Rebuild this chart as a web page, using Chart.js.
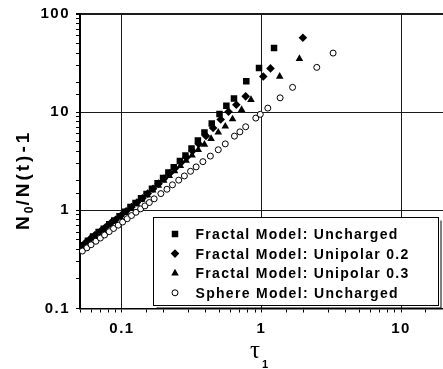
<!DOCTYPE html>
<html><head><meta charset="utf-8">
<script src="https://cdn.jsdelivr.net/npm/chart.js@4/dist/chart.umd.min.js"></script>
<style>html,body{margin:0;padding:0;background:#fff;}canvas{display:block;}</style>
</head><body>
<canvas id="c" width="443" height="369"></canvas>
<script>
// ---- data ----
const seriesNames = ['Fractal Model: Uncharged','Fractal Model: Unipolar 0.2','Fractal Model: Unipolar 0.3','Sphere Model: Uncharged'];

const squareX = [0.052,0.057,0.062,0.068,0.074,0.081,0.088,0.096,0.105,0.115,0.125,0.137,0.150,0.164,0.180,0.197,0.215,0.235,0.260,0.285,0.315,0.350,0.390,0.440,0.500,0.560,0.635,0.778,0.960,1.23];
const squareY = [0.44,0.49,0.54,0.60,0.65,0.72,0.79,0.87,0.97,1.08,1.19,1.33,1.47,1.66,1.89,2.14,2.43,2.75,3.18,3.62,4.26,5.13,6.21,7.66,9.6,11.6,13.8,20.7,28.1,45];

const diamondX = [0.054,0.059,0.064,0.070,0.076,0.083,0.090,0.098,0.107,0.117,0.128,0.140,0.153,0.167,0.183,0.200,0.220,0.240,0.265,0.290,0.320,0.355,0.400,0.450,0.510,0.580,0.660,0.77,1.03,1.16,1.98];
const diamondY = [0.46,0.51,0.56,0.61,0.67,0.74,0.80,0.88,0.98,1.08,1.20,1.33,1.48,1.66,1.87,2.11,2.39,2.69,3.07,3.46,4.03,4.74,5.73,6.90,8.42,10.1,11.9,14.5,23.1,27.9,57.3];

const triangleX = [0.053,0.058,0.063,0.069,0.075,0.082,0.089,0.097,0.106,0.116,0.127,0.139,0.152,0.166,0.182,0.199,0.218,0.238,0.262,0.288,0.318,0.352,0.390,0.435,0.490,0.550,0.620,0.72,0.84,1.35,1.87];
const triangleY = [0.44,0.49,0.54,0.59,0.65,0.72,0.78,0.86,0.95,1.05,1.17,1.29,1.43,1.60,1.79,2.01,2.25,2.52,2.84,3.21,3.63,4.13,4.69,5.36,6.22,7.18,8.5,10.6,13.4,23.1,35];

const sphereX = [0.052,0.056,0.060,0.065,0.070,0.075,0.081,0.087,0.094,0.101,0.109,0.117,0.126,0.136,0.146,0.157,0.170,0.190,0.210,0.230,0.255,0.280,0.310,0.340,0.380,0.430,0.490,0.550,0.640,0.700,0.770,0.910,0.980,1.11,1.36,1.67,2.49,3.26];
const sphereY = [0.385,0.415,0.446,0.484,0.522,0.561,0.607,0.653,0.706,0.76,0.822,0.885,0.955,1.035,1.11,1.20,1.31,1.48,1.64,1.82,2.03,2.24,2.50,2.77,3.13,3.57,4.14,4.75,5.7,6.3,7.1,8.7,9.5,11.0,14.0,17.9,28.6,40];

const xTickLabels = [0.1, 1, 10];
const yTickLabels = [0.1, 1, 10, 100];
const xRange = [0.05, 20];
const yRange = [0.1, 100];

// ---- drawing ----
const FONT = "'Liberation Sans', Arial, Helvetica, sans-serif";
const near = (v, list) => list.some(t => Math.abs(Math.log10(v) - Math.log10(t)) < 1e-6);
const isMajor = v => Math.abs(Math.log10(v) - Math.round(Math.log10(v))) < 1e-6;
const pts = (xs, ys) => xs.map((x, i) => ({x, y: ys[i]}));

const markerStyles = [
  {pointStyle: 'rect', pointRadius: 4.6, backgroundColor: '#000', borderColor: '#000', borderWidth: 0, order: 1},
  {pointStyle: 'rectRot', pointRadius: 4.3, backgroundColor: '#000', borderColor: '#000', borderWidth: 0, order: 2},
  {pointStyle: 'triangle', pointRadius: 4.4, backgroundColor: '#000', borderColor: '#000', borderWidth: 0, order: 3},
  {pointStyle: 'circle', pointRadius: 3, backgroundColor: '#fff', borderColor: '#000', borderWidth: 1, order: 0}
];
const seriesData = [pts(squareX, squareY), pts(diamondX, diamondY), pts(triangleX, triangleY), pts(sphereX, sphereY)];

const datasets = seriesNames.map((name, i) => Object.assign({
  label: name, data: seriesData[i], showLine: false,
  pointHoverRadius: markerStyles[i].pointRadius,
  pointBackgroundColor: markerStyles[i].backgroundColor,
  pointBorderColor: markerStyles[i].borderColor,
  pointBorderWidth: markerStyles[i].borderWidth
}, markerStyles[i]));

const textPlugin = {
  id: 'texts',
  beforeDraw(chart) { chart.ctx.letterSpacing = '1.5px'; },
  afterDraw(chart) {
    const ctx = chart.ctx;
    ctx.save();
    ctx.fillStyle = '#000';
    // Y axis title N0/N(t)-1
    ctx.save();
    ctx.translate(29, 230);
    ctx.rotate(-Math.PI / 2);
    ctx.textAlign = 'left'; ctx.textBaseline = 'alphabetic';
    let x = 0;
    ctx.font = 'bold 19px ' + FONT; ctx.letterSpacing = '3px';
    ctx.fillText('N', x, 0); x += ctx.measureText('N').width;
    ctx.font = 'bold 12px ' + FONT; ctx.letterSpacing = '1px';
    ctx.fillText('0', x, 4); x += ctx.measureText('0').width;
    ctx.font = 'bold 19px ' + FONT; ctx.letterSpacing = '3px';
    ctx.fillText('/N(t)-1', x, 0);
    ctx.restore();
    // X axis title tau_1
    ctx.letterSpacing = '0px';
    ctx.textAlign = 'left'; ctx.textBaseline = 'alphabetic';
    ctx.font = '25px "Liberation Serif", "DejaVu Serif", serif';
    ctx.fillText('τ', 250, 358);
    ctx.font = 'bold 11px ' + FONT;
    ctx.fillText('1', 262, 368);
    // Legend box
    const bx = 153.5, by = 217.5, bw = 285, bh = 88;
    ctx.fillStyle = '#fff';
    ctx.fillRect(bx, by, bw, bh);
    ctx.strokeStyle = '#000'; ctx.lineWidth = 1;
    ctx.strokeRect(bx, by, bw, bh);
    ctx.beginPath();
    ctx.moveTo(bx + bw + 2.5, by + 3); ctx.lineTo(bx + bw + 2.5, by + bh + 2.5); ctx.lineTo(bx + 3, by + bh + 2.5);
    ctx.stroke();
    chart.data.datasets.forEach((ds, i) => {
      const cy = 234 + i * 19.6;
      ctx.fillStyle = ds.backgroundColor; ctx.strokeStyle = ds.borderColor; ctx.lineWidth = ds.borderWidth;
      Chart.helpers.drawPoint(ctx, {pointStyle: ds.pointStyle, radius: ds.pointRadius, rotation: 0, borderWidth: ds.borderWidth}, 175, cy);
      ctx.fillStyle = '#000';
      ctx.font = 'bold 14px ' + FONT; ctx.letterSpacing = '1.3px';
      ctx.textBaseline = 'alphabetic';
      ctx.fillText(ds.label, 195.5, cy + 5);
    });
    ctx.restore();
  }
};

const gridColor = c => (c.tick && isMajor(c.tick.value)) ? '#1a1a1a' : 'rgba(0,0,0,0)';

new Chart(document.getElementById('c'), {
  type: 'scatter',
  data: {datasets},
  options: {
    responsive: false, animation: false, devicePixelRatio: 1,
    layout: {autoPadding: false, padding: {top: 14, right: 0, left: 0, bottom: 0}},
    plugins: {legend: {display: false}, tooltip: {enabled: false}},
    scales: {
      x: {
        type: 'logarithmic', min: xRange[0], max: xRange[1],
        afterFit: s => { s.height = 60.5; s.paddingLeft = 0; s.paddingRight = 0; },
        border: {color: '#000', width: 1.5},
        grid: {color: gridColor, lineWidth: 1, tickColor: '#000', tickLength: 4, drawTicks: true},
        ticks: {autoSkip: false, maxRotation: 0, padding: 7, color: '#000',
          font: {family: FONT, size: 15, weight: 'bold'},
          callback: v => near(v, xTickLabels) ? String(v) : ''}
      },
      y: {
        type: 'logarithmic', min: yRange[0], max: yRange[1],
        afterFit: s => { s.width = 80; s.paddingTop = 0; s.paddingBottom = 0; },
        border: {color: '#000', width: 2},
        grid: {color: gridColor, lineWidth: c => (c.tick && c.tick.value >= 99) ? 2 : 1, tickColor: '#000', tickLength: 4, drawTicks: true},
        ticks: {autoSkip: false, padding: 6, color: '#000',
          font: {family: FONT, size: 15, weight: 'bold'},
          callback: v => near(v, yTickLabels) ? String(v) : ''}
      }
    }
  },
  plugins: [textPlugin]
});
</script>
</body></html>
